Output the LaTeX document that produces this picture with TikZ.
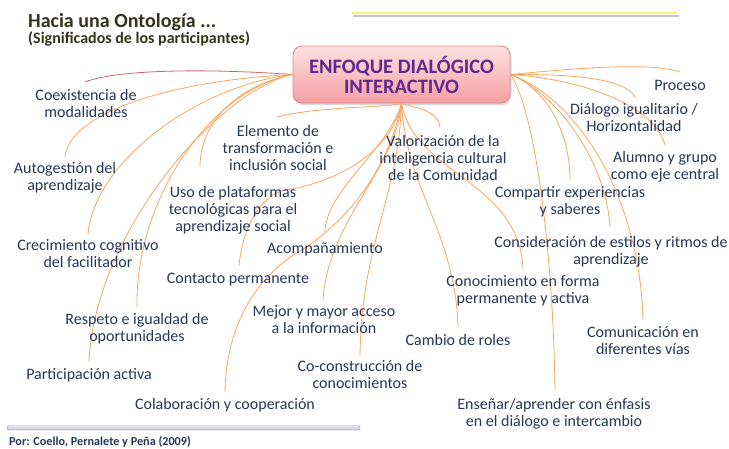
\documentclass[tikz,border=0pt]{standalone}
\usepackage{fontspec}
\setmainfont{Carlito}
\usetikzlibrary{shadows}
\definecolor{navy}{RGB}{38,55,88}
\definecolor{titlecol}{RGB}{52,52,28}
\definecolor{purp}{RGB}{94,40,145}
\definecolor{conn}{RGB}{247,166,96}
\definecolor{connred}{RGB}{205,100,110}
\definecolor{boxtop}{RGB}{253,224,224}
\definecolor{boxbot}{RGB}{245,160,162}
\definecolor{boxline}{RGB}{226,134,140}
\definecolor{barcol}{RGB}{196,192,218}
\definecolor{ylw}{RGB}{248,240,120}
\begin{document}
\begin{tikzpicture}[x=1pt,y=-1pt,
  lbl/.style={text=navy, font=\fontsize{16}{17}\selectfont, align=center, inner sep=0pt, anchor=north,
    execute at begin node=\rule{0pt}{12pt}, execute at end node=\rule[-4pt]{0pt}{4pt}},
  con/.style={draw=conn, line width=0.8pt},
  centralbox/.style={draw=boxline, line width=0.8pt, rounded corners=9pt, top color=boxtop, bottom color=boxbot,
    minimum width=217pt, minimum height=57pt, inner sep=0pt,
    drop shadow={opacity=0.3, shadow xshift=1.5pt, shadow yshift=-2pt},
    text=purp, font=\bfseries\fontsize{20.5}{20}\selectfont, align=center},
  plain/.style={anchor=base west, inner sep=0pt}]
\useasboundingbox (0,0) rectangle (729,448);
\fill[white] (0,0) rectangle (729,448);

% decorative lines
\draw[gray!45, line width=2pt] (353,15.5) -- (679,15.5);
\draw[ylw, line width=2.6pt] (352,12.8) -- (677,12.8);
\draw[rounded corners=1.5pt, draw=barcol!80!black, top color=barcol!35, bottom color=barcol] (7,425.5) rectangle (360,430);

% titles
\node[plain, text=titlecol, font=\bfseries\fontsize{20}{24}\selectfont] (t1) at (28,27) {Hacia una Ontología ...};
\node[plain, text=titlecol, font=\bfseries\fontsize{16}{18}\selectfont] (t2) at (28,43) {(Significados de los participantes)};
\node[plain, text=navy, font=\bfseries\fontsize{12.2}{14}\selectfont] (ft) at (9,445) {Por: Coello, Pernalete y Peña (2009)};

% central node
\node[centralbox] (c) at (401.5,74.5) {ENFOQUE DIALÓGICO\\INTERACTIVO};

% connector ends
\coordinate (e1) at (85,82);
\coordinate (e2) at (65,157);
\coordinate (e3) at (88,234);
\coordinate (e4) at (137,307);
\coordinate (e5) at (89,362);
\coordinate (e6) at (225,392);
\coordinate (e7) at (277,117);
\coordinate (e8) at (200,167);
\coordinate (e9) at (325,232);
\coordinate (e10) at (239,266);
\coordinate (e11) at (323,300);
\coordinate (e12) at (360,355);
\coordinate (e13) at (440,127);
\coordinate (e14) at (458,327);
\coordinate (e15) at (523,268);
\coordinate (e16) at (643,320);
\coordinate (e17) at (555,390);
\coordinate (e18) at (610,227);
\coordinate (e19) at (570,180);
\coordinate (e20) at (665,145);
\coordinate (e21) at (635,97);
\coordinate (e22) at (680,72);

% left hub
\draw[con, draw=connred] (c.west) .. controls (200,68) and (115,70) .. (e1);
\draw[con] (c.west) .. controls (180,80) and (70,110) .. (e2);
\draw[con] (c.west) .. controls (200,85) and (95,160) .. (e3);
\draw[con] (c.west) .. controls (210,90) and (135,200) .. (e4);
\draw[con] (c.west) .. controls (220,90) and (95,230) .. (e5);
\draw[con] (c.west) .. controls (240,85) and (200,120) .. (e8);

% bottom hub
\draw[con] (c.south) .. controls (385,108) and (320,106) .. (e7);
\draw[con] (c.south) .. controls (415,108) and (438,110) .. (e13);
\draw[con] (c.south) .. controls (392,150) and (340,182) .. (285,190) .. controls (258,196) and (242,232) .. (e10);
\draw[con] (c.south) .. controls (388,150) and (326,190) .. (e9);
\draw[con] (c.south) .. controls (388,175) and (340,228) .. (295,254) .. controls (252,282) and (226,330) .. (e6);
\draw[con] (c.south) .. controls (396,170) and (328,220) .. (e11);
\draw[con] (c.south) .. controls (398,200) and (362,240) .. (e12);
\draw[con] (c.south) .. controls (406,190) and (455,230) .. (e14);
\draw[con] (c.south) .. controls (415,175) and (518,180) .. (e15);

% right hub
\draw[con] (c.east) .. controls (580,68) and (650,62) .. (e22);
\draw[con] (c.east) .. controls (570,74) and (625,78) .. (e21);
\draw[con] (c.east) .. controls (590,80) and (655,108) .. (e20);
\draw[con] (c.east) .. controls (545,88) and (570,130) .. (e19);
\draw[con] (c.east) .. controls (555,92) and (606,160) .. (e18);
\draw[con] (c.east) .. controls (535,110) and (553,250) .. (e17);
\draw[con] (c.east) .. controls (580,100) and (640,200) .. (e16);

% labels
\node[lbl] (l1) at (86,89) {Coexistencia de\\modalidades};
\node[lbl] (l2) at (65,162) {Autogestión del\\aprendizaje};
\node[lbl] (l3) at (88,239) {Crecimiento cognitivo\\del facilitador};
\node[lbl] (l4) at (137,313) {Respeto e igualdad de\\oportunidades};
\node[lbl] (l5) at (89,367) {Participación activa};
\node[lbl] (l6) at (225,397) {Colaboración y cooperación};
\node[lbl] (l7) at (278,125) {Elemento de\\transformación e\\inclusión social};
\node[lbl] (l8) at (233,186) {Uso de plataformas\\tecnológicas para el\\aprendizaje social};
\node[lbl] (l9) at (325,241) {Acompañamiento};
\node[lbl] (l10) at (238,271) {Contacto permanente};
\node[lbl] (l11) at (324,305) {Mejor y mayor acceso\\a la información};
\node[lbl] (l12) at (360,360) {Co-construcción de\\conocimientos};
\node[lbl] (l13) at (443,135) {Valorización de la\\inteligencia cultural\\de la Comunidad};
\node[lbl] (l14) at (458,333) {Cambio de roles};
\node[lbl] (l15) at (523,275) {Conocimiento en forma\\permanente y activa};
\node[lbl] (l16) at (643,326) {Comunicación en\\diferentes vías};
\node[lbl] (l17) at (554,398) {Enseñar/aprender con énfasis\\en el diálogo e intercambio};
\node[lbl] (l18) at (611,236) {Consideración de estilos y ritmos de\\aprendizaje};
\node[lbl] (l19) at (570,186) {Compartir experiencias\\y saberes};
\node[lbl] (l20) at (665,151) {Alumno y grupo\\como eje central};
\node[lbl] (l21) at (634,103) {Diálogo igualitario /\\Horizontalidad};
\node[lbl] (l22) at (680,78) {Proceso};
\end{tikzpicture}
\end{document}
